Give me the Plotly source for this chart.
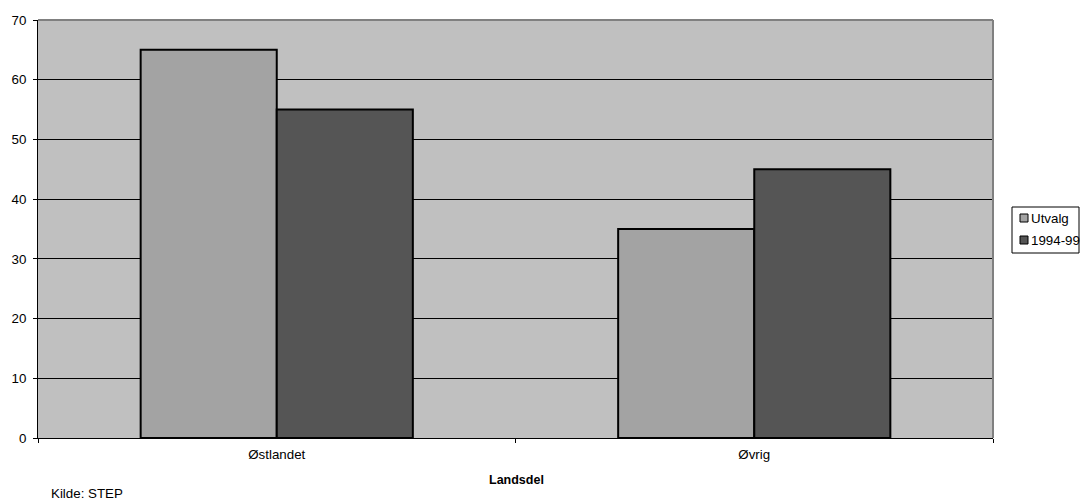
import plotly.graph_objects as go

categories = ["Østlandet", "Øvrig"]
utvalg = [65, 35]
periode = [55, 45]
series_names = ["Utvalg", "1994-99"]
series_colors = ["#A3A3A3", "#555555"]
y_ticks = [0, 10, 20, 30, 40, 50, 60, 70]

FS = 13.33

W, H = 1082, 502
L, R, T, B = 38, 993, 20, 438


def px(x):
    return (x - L) / (R - L)


def py(y):
    return (B - y) / (B - T)


fig = go.Figure()
for name, vals, col in zip(series_names, [utvalg, periode], series_colors):
    fig.add_trace(go.Bar(x=categories, y=vals, name=name, showlegend=False,
                         marker=dict(color=col, line=dict(color="black", width=2))))

shapes = [
    dict(type="line", xref="paper", yref="paper", x0=0, x1=1, y0=1, y1=1,
         line=dict(color="#808080", width=2)),
    dict(type="line", xref="paper", yref="paper", x0=1, x1=1, y0=0, y1=1,
         line=dict(color="#808080", width=2)),
    # legend box
    dict(type="rect", xref="paper", yref="paper", x0=px(1012), x1=px(1079),
         y0=py(253), y1=py(207), line=dict(color="black", width=1), fillcolor="white"),
]
annotations = [
    dict(text="Kilde: STEP", x=px(49), y=py(493), xref="paper", yref="paper",
         xanchor="left", yanchor="middle", showarrow=False, font=dict(size=FS)),
    dict(text="<b>Landsdel</b>", x=px(516), y=py(480), xref="paper", yref="paper",
         xanchor="center", yanchor="middle", showarrow=False, font=dict(size=12.5)),
]
for i, (name, col) in enumerate(zip(series_names, series_colors)):
    cy = 218 + i * 22
    shapes.append(dict(type="rect", xref="paper", yref="paper", x0=px(1020), x1=px(1028),
                       y0=py(cy + 4), y1=py(cy - 4), fillcolor=col,
                       line=dict(color="black", width=1)))
    annotations.append(dict(text=name, x=px(1029), y=py(cy), xref="paper", yref="paper",
                            xanchor="left", yanchor="middle", showarrow=False,
                            font=dict(size=FS)))

fig.update_layout(
    width=W, height=H,
    margin=dict(l=L, r=W - R, t=T, b=H - B),
    paper_bgcolor="white", plot_bgcolor="#C0C0C0",
    barmode="group", bargap=0.43, bargroupgap=0,
    font=dict(family="Liberation Sans, Arial", size=FS, color="black"),
    showlegend=False,
    xaxis=dict(showline=True, linecolor="black", linewidth=1, automargin=False,
               ticks="outside", ticklen=4, tickcolor="black", tickson="boundaries",
               showgrid=False, tickfont=dict(size=FS), ticklabelstandoff=4),
    yaxis=dict(range=[0, 70], tickvals=y_ticks, showline=True, linecolor="black", linewidth=1,
               ticks="outside", ticklen=4, tickcolor="black", automargin=False,
               showgrid=True, gridcolor="black", gridwidth=1, zeroline=False,
               tickfont=dict(size=FS), ticklabelstandoff=4),
    annotations=annotations,
    shapes=shapes,
)
fig.write_html("out.html",
               config={"displayModeBar": False},
               post_script="document.body.style.margin='0';"
                           "document.documentElement.style.overflow='hidden';")
